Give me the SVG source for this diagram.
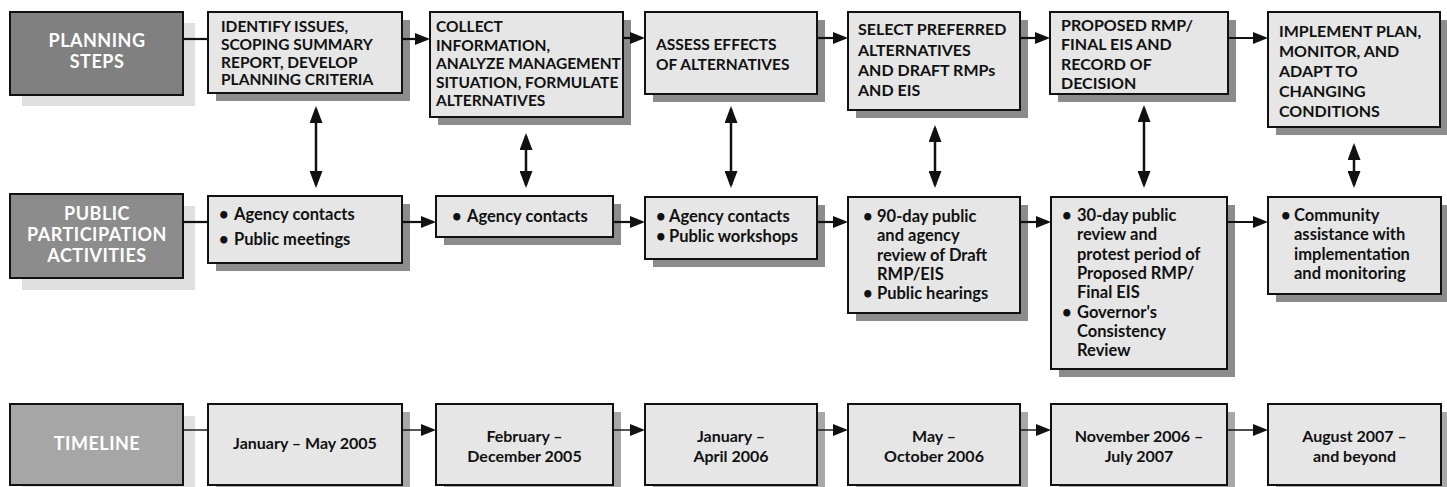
<svg xmlns="http://www.w3.org/2000/svg" width="1447" height="487" viewBox="0 0 1447 487">
<defs>
<style>
.box{fill:#e6e6e6;stroke:#111;stroke-width:2}
.sh{fill:#8c8c8c}
.tsh{fill:#a8a8a8}
.lsh{fill:#e0e0e0}
.l1{fill:#808080;stroke:#111;stroke-width:2}
.l2{fill:#8c8c8c;stroke:#111;stroke-width:2}
.l3{fill:#a6a6a6;stroke:#111;stroke-width:2}
text{font-family:Lato,"Open Sans","DejaVu Sans",sans-serif;font-weight:700;fill:#111}
.lt{fill:#fff;font-size:18px;text-anchor:middle;letter-spacing:0.5px}
.st{font-size:15.5px}
.st2{font-size:16px}
.at{font-size:16.5px}
.tt{font-size:16px;text-anchor:middle}
.c{stroke:#111;fill:none}
.c1{stroke-width:2.2}
.c3{stroke-width:1.4}
.cv{stroke-width:2.5}
</style>
<marker id="ah" viewBox="0 0 15 12" refX="12" refY="6" markerWidth="15" markerHeight="12" markerUnits="userSpaceOnUse" orient="auto"><path d="M0,0 L15,6 L0,12 Z" fill="#111"/></marker>
<marker id="vh" viewBox="0 0 17 13" refX="14" refY="6.5" markerWidth="17" markerHeight="13" markerUnits="userSpaceOnUse" orient="auto-start-reverse"><path d="M0,0 L17,6.5 L0,13 Z" fill="#111"/></marker>
</defs>
<rect width="1447" height="487" fill="#fff"/>

<!-- Row labels -->
<g id="label-planning">
<rect class="lsh" x="22" y="23" width="173" height="83"/>
<rect class="l1" x="10" y="12" width="173" height="83"/>
<text class="lt" x="97" y="47">PLANNING</text>
<text class="lt" x="97" y="68">STEPS</text>
</g>
<g id="label-public">
<rect class="lsh" x="22" y="206" width="173" height="84"/>
<rect class="l2" x="10" y="194" width="173" height="84"/>
<text class="lt" x="97" y="220">PUBLIC</text>
<text class="lt" x="97" y="241">PARTICIPATION</text>
<text class="lt" x="97" y="262">ACTIVITIES</text>
</g>
<g id="label-timeline">
<rect class="lsh" x="22" y="416" width="173" height="81"/>
<rect class="l3" x="10" y="404" width="173" height="81"/>
<text class="lt" x="97" y="450">TIMELINE</text>
</g>

<!-- Planning steps -->
<g id="step1">
<rect class="sh" x="216" y="20" width="194" height="81"/>
<rect class="box" x="208" y="12" width="194" height="81"/>
<text class="st" x="221" y="32">IDENTIFY ISSUES,</text>
<text class="st" x="221" y="50">SCOPING SUMMARY</text>
<text class="st" x="221" y="67.5">REPORT, DEVELOP</text>
<text class="st" x="221" y="85">PLANNING CRITERIA</text>
</g>
<g id="step2">
<rect class="sh" x="438" y="20" width="193" height="105"/>
<rect class="box" x="430" y="12" width="193" height="105"/>
<text class="st" x="436" y="32">COLLECT</text>
<text class="st" x="436" y="50.5">INFORMATION,</text>
<text class="st" x="436" y="69">ANALYZE MANAGEMENT</text>
<text class="st" x="436" y="87.5">SITUATION, FORMULATE</text>
<text class="st" x="436" y="106">ALTERNATIVES</text>
</g>
<g id="step3">
<rect class="sh" x="653" y="20" width="172" height="82"/>
<rect class="box" x="645" y="12" width="172" height="82"/>
<text class="st" x="656" y="50">ASSESS EFFECTS</text>
<text class="st" x="656" y="70">OF ALTERNATIVES</text>
</g>
<g id="step4">
<rect class="sh" x="856" y="20" width="172" height="98"/>
<rect class="box" x="848" y="12" width="172" height="98"/>
<text class="st2" x="858" y="35">SELECT PREFERRED</text>
<text class="st2" x="858" y="56">ALTERNATIVES</text>
<text class="st2" x="858" y="76">AND DRAFT RMPs</text>
<text class="st2" x="858" y="96">AND EIS</text>
</g>
<g id="step5">
<rect class="sh" x="1058" y="20" width="178" height="82"/>
<rect class="box" x="1050" y="12" width="178" height="82"/>
<text class="st2" x="1061" y="31">PROPOSED RMP/</text>
<text class="st2" x="1061" y="50">FINAL EIS AND</text>
<text class="st2" x="1061" y="70">RECORD OF</text>
<text class="st2" x="1061" y="89">DECISION</text>
</g>
<g id="step6">
<rect class="sh" x="1276" y="20" width="172" height="115"/>
<rect class="box" x="1268" y="12" width="172" height="115"/>
<text class="st2" x="1279" y="37">IMPLEMENT PLAN,</text>
<text class="st2" x="1279" y="57">MONITOR, AND</text>
<text class="st2" x="1279" y="77">ADAPT TO</text>
<text class="st2" x="1279" y="97">CHANGING</text>
<text class="st2" x="1279" y="117">CONDITIONS</text>
</g>

<!-- Public participation activities -->
<g id="act1">
<rect class="sh" x="216" y="204" width="194" height="67"/>
<rect class="box" x="208" y="196" width="194" height="67"/>
<text class="at" x="219" y="220">•</text><text class="at" x="234" y="220">Agency contacts</text>
<text class="at" x="219" y="245">•</text><text class="at" x="234" y="245">Public meetings</text>
</g>
<g id="act2">
<rect class="sh" x="444" y="204" width="177" height="41"/>
<rect class="box" x="436" y="196" width="177" height="41"/>
<text class="at" x="452" y="222">•</text><text class="at" x="467" y="222">Agency contacts</text>
</g>
<g id="act3">
<rect class="sh" x="653" y="205" width="172" height="62"/>
<rect class="box" x="645" y="197" width="172" height="62"/>
<text class="at" x="656" y="222">•</text><text class="at" x="669" y="222">Agency contacts</text>
<text class="at" x="656" y="242">•</text><text class="at" x="669" y="242">Public workshops</text>
</g>
<g id="act4">
<rect class="sh" x="856" y="205" width="172" height="116"/>
<rect class="box" x="848" y="197" width="172" height="116"/>
<text class="at" x="863" y="222">•</text><text class="at" x="877" y="222">90-day public</text>
<text class="at" x="877" y="241">and agency</text>
<text class="at" x="877" y="261">review of Draft</text>
<text class="at" x="877" y="280">RMP/EIS</text>
<text class="at" x="863" y="299">•</text><text class="at" x="877" y="299">Public hearings</text>
</g>
<g id="act5">
<rect class="sh" x="1059" y="205" width="176" height="172"/>
<rect class="box" x="1051" y="197" width="176" height="172"/>
<text class="at" x="1062" y="221">•</text><text class="at" x="1077" y="221">30-day public</text>
<text class="at" x="1077" y="240">review and</text>
<text class="at" x="1077" y="260">protest period of</text>
<text class="at" x="1077" y="279">Proposed RMP/</text>
<text class="at" x="1077" y="298">Final EIS</text>
<text class="at" x="1062" y="318">•</text><text class="at" x="1077" y="318">Governor's</text>
<text class="at" x="1077" y="337">Consistency</text>
<text class="at" x="1077" y="356">Review</text>
</g>
<g id="act6">
<rect class="sh" x="1276" y="205" width="173" height="97"/>
<rect class="box" x="1268" y="197" width="173" height="97"/>
<text class="at" x="1281" y="221">•</text><text class="at" x="1294" y="221">Community</text>
<text class="at" x="1294" y="240">assistance with</text>
<text class="at" x="1294" y="260">implementation</text>
<text class="at" x="1294" y="279">and monitoring</text>
</g>

<!-- Timeline -->
<g id="time1">
<rect class="tsh" x="216" y="412" width="194" height="81"/>
<rect class="box" x="208" y="404" width="194" height="81"/>
<text class="tt" x="305" y="449">January – May 2005</text>
</g>
<g id="time2">
<rect class="tsh" x="444" y="412" width="177" height="81"/>
<rect class="box" x="436" y="404" width="177" height="81"/>
<text class="tt" x="524.5" y="442">February –</text>
<text class="tt" x="524.5" y="462">December 2005</text>
</g>
<g id="time3">
<rect class="tsh" x="653" y="412" width="172" height="81"/>
<rect class="box" x="645" y="404" width="172" height="81"/>
<text class="tt" x="731" y="442">January –</text>
<text class="tt" x="731" y="462">April 2006</text>
</g>
<g id="time4">
<rect class="tsh" x="856" y="412" width="172" height="81"/>
<rect class="box" x="848" y="404" width="172" height="81"/>
<text class="tt" x="934" y="442">May –</text>
<text class="tt" x="934" y="462">October 2006</text>
</g>
<g id="time5">
<rect class="tsh" x="1059" y="412" width="176" height="81"/>
<rect class="box" x="1051" y="404" width="176" height="81"/>
<text class="tt" x="1139" y="442">November 2006 –</text>
<text class="tt" x="1139" y="462">July 2007</text>
</g>
<g id="time6">
<rect class="tsh" x="1276" y="412" width="173" height="81"/>
<rect class="box" x="1268" y="404" width="173" height="81"/>
<text class="tt" x="1354.5" y="442">August 2007 –</text>
<text class="tt" x="1354.5" y="462">and beyond</text>
</g>

<!-- Connectors -->
<g id="connectors">
<line class="c c1" x1="183" y1="39" x2="208" y2="39"/>
<line class="c c1" x1="402" y1="39" x2="427" y2="39" marker-end="url(#ah)"/>
<line class="c c1" x1="623" y1="38" x2="642" y2="38" marker-end="url(#ah)"/>
<line class="c c1" x1="817" y1="38" x2="845" y2="38" marker-end="url(#ah)"/>
<line class="c c1" x1="1020" y1="38" x2="1047" y2="38" marker-end="url(#ah)"/>
<line class="c c1" x1="1228" y1="38" x2="1265" y2="38" marker-end="url(#ah)"/>

<line class="c c1" x1="183" y1="222" x2="208" y2="222"/>
<line class="c c1" x1="402" y1="222" x2="433" y2="222" marker-end="url(#ah)"/>
<line class="c c1" x1="613" y1="222" x2="642" y2="222" marker-end="url(#ah)"/>
<line class="c c1" x1="817" y1="222" x2="845" y2="222" marker-end="url(#ah)"/>
<line class="c c1" x1="1020" y1="222" x2="1048" y2="222" marker-end="url(#ah)"/>
<line class="c c1" x1="1227" y1="222" x2="1265" y2="222" marker-end="url(#ah)"/>

<line class="c c3" x1="183" y1="430" x2="208" y2="430"/>
<line class="c c3" x1="402" y1="430" x2="433" y2="430" marker-end="url(#ah)"/>
<line class="c c3" x1="613" y1="430" x2="642" y2="430" marker-end="url(#ah)"/>
<line class="c c3" x1="817" y1="430" x2="845" y2="430" marker-end="url(#ah)"/>
<line class="c c3" x1="1020" y1="430" x2="1048" y2="430" marker-end="url(#ah)"/>
<line class="c c3" x1="1227" y1="430" x2="1265" y2="430" marker-end="url(#ah)"/>

<line class="c cv" x1="316" y1="109" x2="316" y2="185" marker-start="url(#vh)" marker-end="url(#vh)"/>
<line class="c cv" x1="526" y1="136" x2="526" y2="185" marker-start="url(#vh)" marker-end="url(#vh)"/>
<line class="c cv" x1="731" y1="109" x2="731" y2="185" marker-start="url(#vh)" marker-end="url(#vh)"/>
<line class="c cv" x1="935" y1="128" x2="935" y2="185" marker-start="url(#vh)" marker-end="url(#vh)"/>
<line class="c cv" x1="1144" y1="108" x2="1144" y2="185" marker-start="url(#vh)" marker-end="url(#vh)"/>
<line class="c cv" x1="1354" y1="146" x2="1354" y2="185" marker-start="url(#vh)" marker-end="url(#vh)"/>
</g>
</svg>
